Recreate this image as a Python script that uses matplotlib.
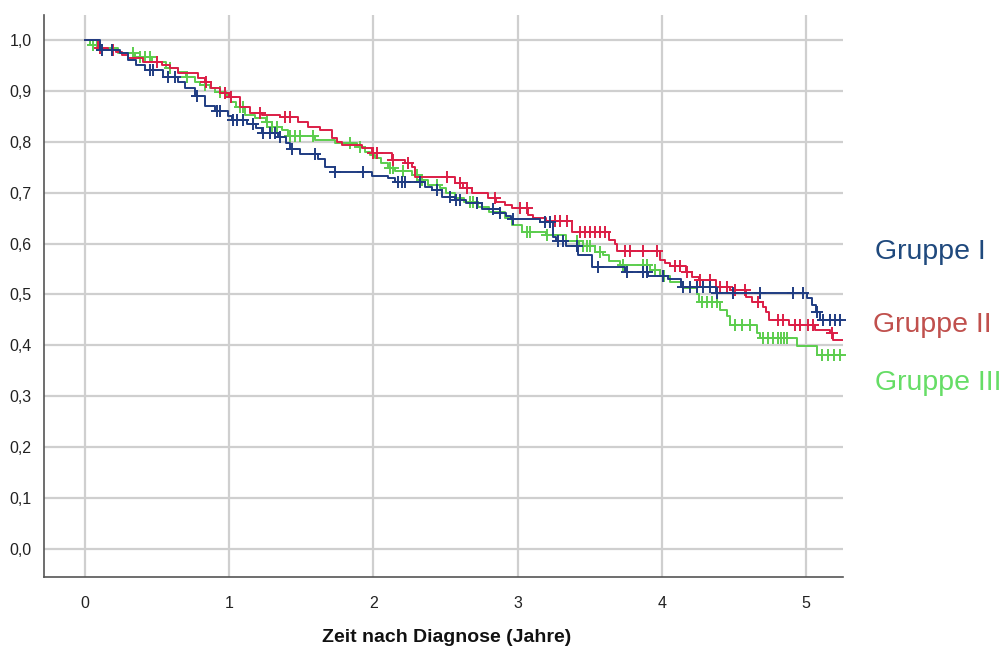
import numpy as np
import matplotlib
matplotlib.use("Agg")
import matplotlib.pyplot as plt

# ---------------- data ----------------
# Gruppe I (event steps: time in years, survival after step)
t1 = [0.104, 0.243, 0.298, 0.354, 0.416, 0.541, 0.645, 0.693, 0.763, 0.832, 0.902, 0.992,
      1.019, 1.123, 1.186, 1.227, 1.338, 1.394, 1.422, 1.491, 1.616, 1.665, 1.734, 1.990,
      2.101, 2.150, 2.358, 2.406, 2.476, 2.566, 2.642, 2.753, 2.878, 2.920, 2.954, 3.155,
      3.245, 3.266, 3.336, 3.419, 3.516, 3.745, 3.904, 4.043, 4.133, 4.376, 5.007, 5.042,
      5.069, 5.097]
s1 = [0.980, 0.975, 0.960, 0.950, 0.940, 0.927, 0.918, 0.905, 0.890, 0.870, 0.860, 0.850,
      0.843, 0.835, 0.827, 0.818, 0.810, 0.798, 0.785, 0.775, 0.767, 0.750, 0.740, 0.732,
      0.728, 0.721, 0.711, 0.705, 0.692, 0.686, 0.680, 0.668, 0.660, 0.655, 0.649, 0.642,
      0.612, 0.605, 0.595, 0.578, 0.554, 0.544, 0.536, 0.530, 0.515, 0.503, 0.493, 0.480,
      0.466, 0.450]
c1 = [0.118, 0.187, 0.451, 0.472, 0.576, 0.624, 0.777, 0.915, 0.936, 1.026, 1.054, 1.096,
      1.165, 1.234, 1.283, 1.318, 1.352, 1.436, 1.595, 1.734, 1.928, 2.171, 2.198, 2.219,
      2.323, 2.441, 2.531, 2.570, 2.601, 2.718, 2.829, 2.880, 2.968, 3.190, 3.225, 3.280,
      3.315, 3.412, 3.558, 3.759, 3.870, 3.897, 4.008, 4.147, 4.196, 4.244, 4.286, 4.334,
      4.383, 4.494, 4.681, 4.910, 4.979, 5.076, 5.120, 5.166, 5.201, 5.236]

# Gruppe II
t2 = [0.090, 0.160, 0.215, 0.257, 0.298, 0.402, 0.534, 0.589, 0.645, 0.784, 0.832, 0.874,
      0.936, 0.999, 1.075, 1.144, 1.228, 1.352, 1.477, 1.547, 1.630, 1.713, 1.748, 1.782,
      1.921, 1.990, 2.129, 2.219, 2.268, 2.288, 2.566, 2.621, 2.684, 2.795, 2.850, 2.913,
      2.961, 3.072, 3.107, 3.197, 3.377, 3.634, 3.675, 3.689, 3.988, 4.022, 4.057, 4.168,
      4.209, 4.258, 4.376, 4.473, 4.584, 4.626, 4.702, 4.723, 4.743, 4.882, 5.062, 5.166,
      5.187]
s2 = [0.984, 0.980, 0.976, 0.970, 0.965, 0.957, 0.951, 0.945, 0.935, 0.925, 0.917, 0.906,
      0.896, 0.888, 0.868, 0.857, 0.853, 0.848, 0.839, 0.829, 0.823, 0.807, 0.800, 0.794,
      0.788, 0.778, 0.764, 0.758, 0.750, 0.731, 0.719, 0.709, 0.699, 0.690, 0.682, 0.676,
      0.670, 0.656, 0.650, 0.644, 0.622, 0.607, 0.600, 0.585, 0.568, 0.562, 0.556, 0.544,
      0.534, 0.528, 0.515, 0.509, 0.495, 0.485, 0.475, 0.465, 0.450, 0.440, 0.430, 0.424,
      0.410]
c2 = [0.104, 0.194, 0.499, 0.840, 0.971, 1.010, 1.214, 1.387, 1.422, 1.997, 2.025, 2.136,
      2.240, 2.510, 2.601, 2.649, 2.843, 3.017, 3.065, 3.259, 3.294, 3.343, 3.433, 3.467,
      3.502, 3.537, 3.571, 3.606, 3.745, 3.779, 3.870, 3.967, 4.092, 4.127, 4.175, 4.265,
      4.334, 4.404, 4.452, 4.508, 4.577, 4.667, 4.806, 4.840, 4.924, 4.958, 5.014, 5.050,
      5.180]

# Gruppe III
t3 = [0.035, 0.104, 0.229, 0.347, 0.465, 0.562, 0.645, 0.700, 0.763, 0.797, 0.867, 0.902,
      0.978, 1.012, 1.047, 1.110, 1.179, 1.255, 1.297, 1.366, 1.408, 1.595, 1.734, 1.886,
      1.942, 1.976, 2.011, 2.053, 2.101, 2.150, 2.268, 2.323, 2.379, 2.462, 2.503, 2.566,
      2.628, 2.725, 2.802, 2.913, 2.961, 3.031, 3.197, 3.336, 3.426, 3.537, 3.592, 3.634,
      3.710, 3.918, 3.988, 4.057, 4.147, 4.244, 4.258, 4.404, 4.452, 4.473, 4.660, 4.681,
      4.938, 5.076]
s3 = [0.990, 0.985, 0.974, 0.967, 0.957, 0.945, 0.937, 0.927, 0.917, 0.912, 0.906, 0.898,
      0.892, 0.878, 0.868, 0.853, 0.847, 0.839, 0.829, 0.823, 0.811, 0.803, 0.798, 0.790,
      0.780, 0.774, 0.768, 0.758, 0.749, 0.742, 0.735, 0.725, 0.715, 0.709, 0.699, 0.690,
      0.682, 0.672, 0.662, 0.650, 0.637, 0.623, 0.617, 0.606, 0.595, 0.583, 0.578, 0.566,
      0.558, 0.548, 0.536, 0.524, 0.512, 0.500, 0.485, 0.470, 0.457, 0.440, 0.425, 0.415,
      0.398, 0.381]
c3 = [0.055, 0.083, 0.333, 0.381, 0.416, 0.451, 0.589, 0.707, 0.832, 0.936, 1.075, 1.096,
      1.262, 1.300, 1.331, 1.422, 1.456, 1.491, 1.581, 1.838, 1.907, 2.115, 2.136, 2.205,
      2.302, 2.337, 2.441, 2.670, 2.691, 3.065, 3.086, 3.204, 3.412, 3.454, 3.481, 3.502,
      3.571, 3.731, 3.870, 3.897, 3.953, 4.015, 4.279, 4.313, 4.348, 4.383, 4.508, 4.556,
      4.612, 4.702, 4.736, 4.771, 4.806, 4.827, 4.847, 4.868, 5.111, 5.153, 5.194, 5.236]

groups = ["Gruppe I", "Gruppe II", "Gruppe III"]
line_colors = ["#1F3C82", "#DC1E46", "#5CCD4E"]
label_colors = ["#1F497D", "#C0504D", "#66DD66"]

x_ticks = [0, 1, 2, 3, 4, 5]
y_ticks = [0.0, 0.1, 0.2, 0.3, 0.4, 0.5, 0.6, 0.7, 0.8, 0.9, 1.0]
y_tick_labels = ["0,0", "0,1", "0,2", "0,3", "0,4", "0,5", "0,6", "0,7", "0,8", "0,9", "1,0"]
x_label = "Zeit nach Diagnose (Jahre)"

XMIN, XMAX = -0.284, 5.256
YMIN, YMAX = -0.055, 1.049

FONT = ["Liberation Sans", "DejaVu Sans"]

# ---------------- plot ----------------
fig = plt.figure(figsize=(10.06, 6.53), dpi=100)
ax = fig.add_axes([44 / 1006, 1 - 577 / 653, (843 - 44) / 1006, (577 - 15) / 653])

ax.set_xlim(XMIN, XMAX)
ax.set_ylim(YMIN, YMAX)

for xt in x_ticks:
    ax.axvline(xt, color="#CFCFCF", lw=1.6, zorder=0)
for yt in y_ticks:
    ax.axhline(yt, color="#CFCFCF", lw=1.6, zorder=0)

data = [(t1, s1, c1), (t2, s2, c2), (t3, s3, c3)]
order = [2, 1, 0]
for i in order:
    t, s, c = data[i]
    tt = np.concatenate([[0.0], np.array(t), [XMAX]])
    ss = np.concatenate([[1.0], np.array(s), [s[-1]]])
    ax.step(tt, ss, where="post", color=line_colors[i], lw=1.4, zorder=3 + (2 - i))
    idx = np.searchsorted(tt, np.array(c), side="right") - 1
    ax.plot(c, ss[idx], linestyle="none", marker="+", markersize=8,
            markeredgewidth=1.4, color=line_colors[i], zorder=3 + (2 - i), clip_on=False)

ax.set_xticks(x_ticks)
ax.set_xticklabels([str(v) for v in x_ticks])
ax.set_yticks(y_ticks)
ax.set_yticklabels(y_tick_labels)
ax.tick_params(axis="both", length=0, labelsize=11.5, colors="#222222")
ax.tick_params(axis="x", pad=14)
ax.tick_params(axis="y", pad=9)
for lab in ax.get_xticklabels() + ax.get_yticklabels():
    lab.set_family(FONT)

for side in ["top", "right"]:
    ax.spines[side].set_visible(False)
for side in ["left", "bottom"]:
    ax.spines[side].set_color("#555555")
    ax.spines[side].set_linewidth(1.2)

fig.text(447 / 1006, 1 - 638 / 653, x_label, ha="center", va="center",
         fontsize=14, fontweight="bold", family=FONT, color="#111111")

label_pos = [(875, 252), (873, 325), (875, 383)]
for (px, py), name, col in zip(label_pos, groups, label_colors):
    fig.text(px / 1006, 1 - py / 653, name, ha="left", va="center",
             fontsize=20.5, color=col, family=FONT)

fig.savefig("out.png", dpi=100)
